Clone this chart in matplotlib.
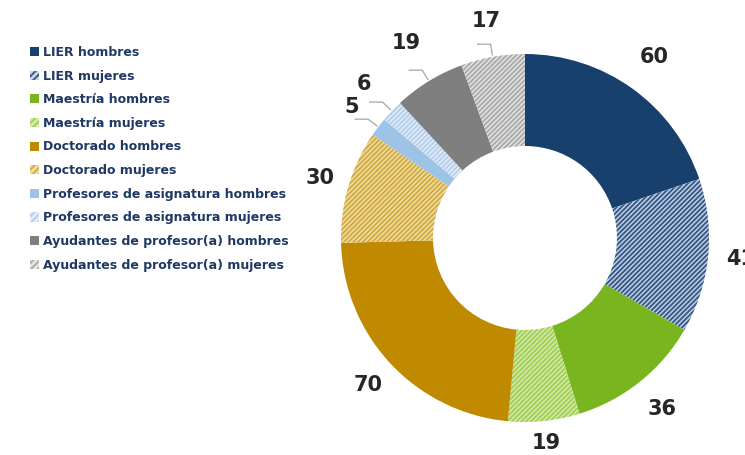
import matplotlib
matplotlib.use("Agg")
import matplotlib.pyplot as plt
import numpy as np
from matplotlib.patches import Patch

labels = ["LIER hombres", "LIER mujeres", "Maestría hombres", "Maestría mujeres",
          "Doctorado hombres", "Doctorado mujeres", "Profesores de asignatura hombres",
          "Profesores de asignatura mujeres", "Ayudantes de profesor(a) hombres",
          "Ayudantes de profesor(a) mujeres"]
values = [60, 41, 36, 19, 70, 30, 5, 6, 19, 17]

# face colour, stripe colour (None = solid)
faces = ["#17406d", "#c6d5e9", "#78b51f", "#d6ecae", "#c08a00",
         "#f3e0a2", "#9dc3e6", "#e6eff9", "#7f7f7f", "#e6e6e6"]
stripes = [None, "#3a5a88", None, "#a3cf58", None,
           "#d1ab48", None, "#b4cfec", None, "#ababab"]
leaders = [False, False, False, False, False, False, True, True, True, True]
# distance of each value label from the centre (in outer radii)
label_r = [1.21, 1.175, 1.19, 1.12, 1.17, 1.16, 1.18, 1.21, 1.24, 1.20]

plt.rcParams["hatch.linewidth"] = 1.4

fig = plt.figure(figsize=(7.45, 4.55), dpi=100)

# axes placed so the donut centre sits at (525, 238) px with radius ~184 px
R = 184.0
half = 1.5 * R
ax = fig.add_axes([(525 - half) / 745, (455 - 238 - half) / 455,
                   2 * half / 745, 2 * half / 455])

wedges, _ = ax.pie(values, startangle=90, counterclock=False, radius=1.0,
                   colors=faces, wedgeprops=dict(width=0.5, linewidth=0))
for w, s in zip(wedges, stripes):
    if s is not None:
        w.set_hatch("/" * 7)
        w.set_edgecolor(s)
        w.set_linewidth(0)

ax.set_xlim(-1.5, 1.5)
ax.set_ylim(-1.5, 1.5)
ax.set_aspect("equal")
ax.axis("off")

# data labels
total = sum(values)
cum = np.cumsum([0] + values)
for i, v in enumerate(values):
    mid = (cum[i] + v / 2) / total * 2 * np.pi  # clockwise from top
    dx, dy = np.sin(mid), np.cos(mid)
    r = label_r[i]
    ax.text(r * dx, r * dy, str(v), ha="center", va="center",
            fontsize=15, fontweight="bold", color="#262626", clip_on=False)
    if leaders[i]:
        x0, y0 = 1.01 * dx, 1.01 * dy
        x1, y1 = 1.07 * dx, 1.07 * dy
        ax.plot([x0, x1, x1 - 0.07], [y0, y1, y1], color="#a6a6a6", lw=0.9)

handles = []
for f, s in zip(faces, stripes):
    if s is None:
        handles.append(Patch(facecolor=f, edgecolor=f, linewidth=0))
    else:
        handles.append(Patch(facecolor=f, edgecolor=s, hatch="/" * 5, linewidth=0))

fig.legend(handles, labels, loc="upper left", bbox_to_anchor=(30 / 745, 1 - 46 / 455),
           frameon=False, handlelength=0.75, handleheight=0.75, handletextpad=0.3,
           labelspacing=0.85, borderaxespad=0, borderpad=0,
           prop=dict(size=9, weight="bold"), labelcolor="#1f3864")

fig.savefig("out.png", dpi=100)
